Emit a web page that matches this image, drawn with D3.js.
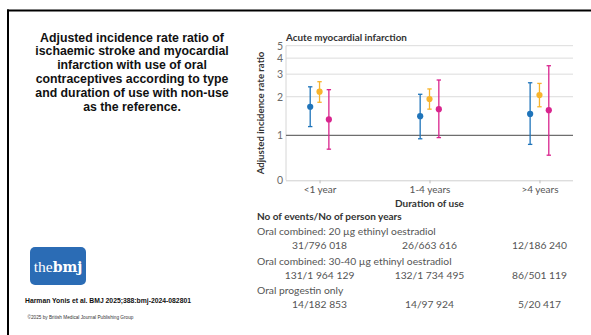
<!DOCTYPE html>
<html>
<head>
<meta charset="utf-8">
<script src="https://cdn.jsdelivr.net/npm/d3@7"></script>
<style>
  body { margin: 0; background: #fff; }
  svg { display: block; }
</style>
</head>
<body>
<div id="chart"></div>
<script>
// categories
const durations = ["<1 year", "1-4 years", ">4 years"];
const seriesKeys = ["ec20", "ec3040", "pop"];
const seriesColors = ["#1f74ba", "#f8b42c", "#d9248e"];

// adjusted IRR (point, lower, upper) per duration
const est20 = [1.67, 1.41, 1.47];
const lo20 = [1.17, 0.94, 0.85];
const hi20 = [2.39, 2.09, 2.57];

const est3040 = [2.19, 1.92, 2.06];
const lo3040 = [1.81, 1.60, 1.67];
const hi3040 = [2.62, 2.30, 2.54];

const estPop = [1.33, 1.60, 1.57];
const loPop = [0.78, 0.96, 0.70];
const hiPop = [2.27, 2.70, 3.49];

const yTicks = [0, 1, 2, 3, 4, 5];

// events table
const tableGroups = [
  "Oral combined: 20 \u00b5g ethinyl oestradiol",
  "Oral combined: 30-40 \u00b5g ethinyl oestradiol",
  "Oral progestin only"
];
const events20 = ["31/796 018", "26/663 616", "12/186 240"];
const events3040 = ["131/1 964 129", "132/1 734 495", "86/501 119"];
const eventsPop = ["14/182 853", "14/97 924", "5/20 417"];

const titleLines = [
  "Adjusted incidence rate ratio of",
  "ischaemic stroke and myocardial",
  "infarction with use of oral",
  "contraceptives according to type",
  "and duration of use with non-use",
  "as the reference."
];

const W = 591, H = 335;
const svg = d3.select("#chart").append("svg")
  .attr("width", W)
  .attr("height", H);

svg.append("rect").attr("width", W).attr("height", H).attr("fill", "#fff");

// slide frame
svg.append("line").attr("x1", 7).attr("x2", W).attr("y1", 10.5).attr("y2", 10.5)
  .attr("stroke", "#000").attr("stroke-width", 2);
svg.append("line").attr("x1", 8).attr("x2", 8).attr("y1", 9.5).attr("y2", H)
  .attr("stroke", "#000").attr("stroke-width", 2);

// left title
svg.append("g").selectAll("text")
  .data(titleLines)
  .enter()
  .append("text")
  .attr("x", 132)
  .attr("y", (d, i) => 41.5 + i * 13.9)
  .attr("text-anchor", "middle")
  .style("font-family", "'Liberation Sans', Arial, sans-serif")
  .style("font-weight", "bold")
  .style("font-size", "12.3px")
  .attr("fill", "#111")
  .text(d => d);

// logo
const logo = svg.append("g");
logo.append("rect").attr("x", 30).attr("y", 247).attr("width", 56).attr("height", 38)
  .attr("rx", 5).attr("fill", "#2b6cb5");
const logoText = logo.append("text").attr("x", 58).attr("y", 271.5).attr("text-anchor", "middle")
  .style("font-family", "'DejaVu Serif', serif").style("font-size", "14px").attr("fill", "#fff");
logoText.append("tspan").style("font-weight", "normal").style("font-family", "'Liberation Serif', serif").style("font-size", "15.5px").text("the");
logoText.append("tspan").style("font-weight", "bold").text("bmj");

svg.append("text").attr("x", 25).attr("y", 302.5)
  .style("font-family", "'Liberation Sans', Arial, sans-serif")
  .style("font-weight", "bold").style("font-size", "6.8px").attr("fill", "#111")
  .text("Harman Yonis et al. BMJ 2025;388:bmj-2024-082801");
svg.append("text").attr("x", 27.5).attr("y", 319)
  .style("font-family", "'Liberation Sans', Arial, sans-serif")
  .style("font-size", "4.7px").attr("fill", "#333")
  .text("\u00a92025 by British Medical Journal Publishing Group");

// chart
const chartFont = "Lato, 'Open Sans', sans-serif";
const plot = { left: 286, right: 573, top: 45.7, bottom: 180.3 };
const yFloor = 0.446;

const x = d3.scalePoint()
  .domain(durations)
  .range([plot.left, plot.right])
  .padding(0.305);

const offset = d3.scaleBand()
  .domain(seriesKeys)
  .range([-14, 14]);

const y = d3.scaleLog()
  .domain([yFloor, 5])
  .range([plot.bottom, plot.top]);

const tickPos = t => t === 0 ? yFloor : t;

const g = svg.append("g");

// gridlines
g.selectAll(".grid")
  .data(yTicks.filter(t => t > 1))
  .enter()
  .append("line")
  .attr("x1", plot.left).attr("x2", plot.right)
  .attr("y1", d => y(d)).attr("y2", d => y(d))
  .attr("stroke", "#dcdcdc").attr("stroke-width", 1);

// left frame line
g.append("line")
  .attr("x1", plot.left).attr("x2", plot.left)
  .attr("y1", plot.top).attr("y2", plot.bottom)
  .attr("stroke", "#d6d6d6");

// reference line at 1
g.append("line")
  .attr("x1", plot.left).attr("x2", plot.right)
  .attr("y1", y(1)).attr("y2", y(1))
  .attr("stroke", "#6e6e6e").attr("stroke-width", 1.1);

// Y axis labels
const yAxis = g.append("g")
  .attr("transform", "translate(" + (plot.left - 3) + ",0)")
  .call(d3.axisLeft(y).tickValues(yTicks.map(tickPos)).tickSize(0).tickPadding(0)
    .tickFormat((d, i) => String(yTicks[i])));
yAxis.select(".domain").remove();
yAxis.selectAll("text")
  .style("font-family", chartFont).style("font-size", "10.5px").attr("fill", "#6a6a6a");

// X axis
const xAxis = g.append("g")
  .attr("transform", "translate(0," + plot.bottom + ")")
  .call(d3.axisBottom(x).tickSize(3).tickPadding(3).tickSizeOuter(0));
xAxis.select(".domain")
  .attr("d", "M" + plot.left + ",0.5H" + plot.right)
  .attr("stroke", "#cfcfcf");
xAxis.selectAll(".tick line").attr("stroke", "#bbb");
xAxis.selectAll("text")
  .style("font-family", chartFont).style("font-size", "10px").attr("fill", "#555");

// titles
g.append("text").attr("x", plot.left).attr("y", 40.5)
  .style("font-family", chartFont).style("font-weight", "bold").style("font-size", "9.9px")
  .attr("fill", "#333").text("Acute myocardial infarction");

g.append("text")
  .attr("transform", "translate(264," + ((plot.top + plot.bottom) / 2) + ") rotate(-90)")
  .attr("text-anchor", "middle")
  .style("font-family", chartFont).style("font-weight", "bold").style("font-size", "9.6px")
  .attr("fill", "#333").text("Adjusted incidence rate ratio");

g.append("text").attr("x", x(durations[1])).attr("y", 206.5)
  .attr("text-anchor", "middle")
  .style("font-family", chartFont).style("font-weight", "bold").style("font-size", "10px")
  .attr("fill", "#333").text("Duration of use");

// error bars
const series = [
  { key: "ec20", est: est20, lo: lo20, hi: hi20 },
  { key: "ec3040", est: est3040, lo: lo3040, hi: hi3040 },
  { key: "pop", est: estPop, lo: loPop, hi: hiPop }
];
const points = [];
series.forEach((s, si) => {
  durations.forEach((d, di) => {
    points.push({ dur: d, key: s.key, color: seriesColors[si], est: s.est[di], lo: s.lo[di], hi: s.hi[di] });
  });
});
const cx = d => x(d.dur) + offset(d.key) + offset.bandwidth() / 2;

const bars = g.selectAll(".ci").data(points).enter().append("g");
bars.append("line")
  .attr("x1", cx).attr("x2", cx)
  .attr("y1", d => y(d.lo)).attr("y2", d => y(d.hi))
  .attr("stroke", d => d.color).attr("stroke-width", 1.3);
bars.append("line")
  .attr("x1", d => cx(d) - 2.2).attr("x2", d => cx(d) + 2.2)
  .attr("y1", d => y(d.hi)).attr("y2", d => y(d.hi))
  .attr("stroke", d => d.color).attr("stroke-width", 1.3);
bars.append("line")
  .attr("x1", d => cx(d) - 2.2).attr("x2", d => cx(d) + 2.2)
  .attr("y1", d => y(d.lo)).attr("y2", d => y(d.lo))
  .attr("stroke", d => d.color).attr("stroke-width", 1.3);
bars.append("circle")
  .attr("cx", cx).attr("cy", d => y(d.est)).attr("r", 3.1)
  .attr("fill", d => d.color);

// events table
g.append("text").attr("x", 257).attr("y", 220)
  .style("font-family", chartFont).style("font-weight", "bold").style("font-size", "10px")
  .attr("fill", "#333").text("No of events/No of person years");

const rows = [events20, events3040, eventsPop];
tableGroups.forEach((label, i) => {
  const top = 235 + i * 29.5;
  g.append("text").attr("x", 257).attr("y", top)
    .style("font-family", chartFont).style("font-size", "10.3px")
    .attr("fill", "#555").text(label);
  g.selectAll(".row" + i)
    .data(rows[i])
    .enter()
    .append("text")
    .attr("x", (d, j) => x(durations[j]))
    .attr("y", top + 14.3)
    .attr("text-anchor", "middle")
    .style("font-family", chartFont).style("font-size", "10.3px")
    .attr("fill", "#555")
    .text(d => d);
});
</script>
</body>
</html>
